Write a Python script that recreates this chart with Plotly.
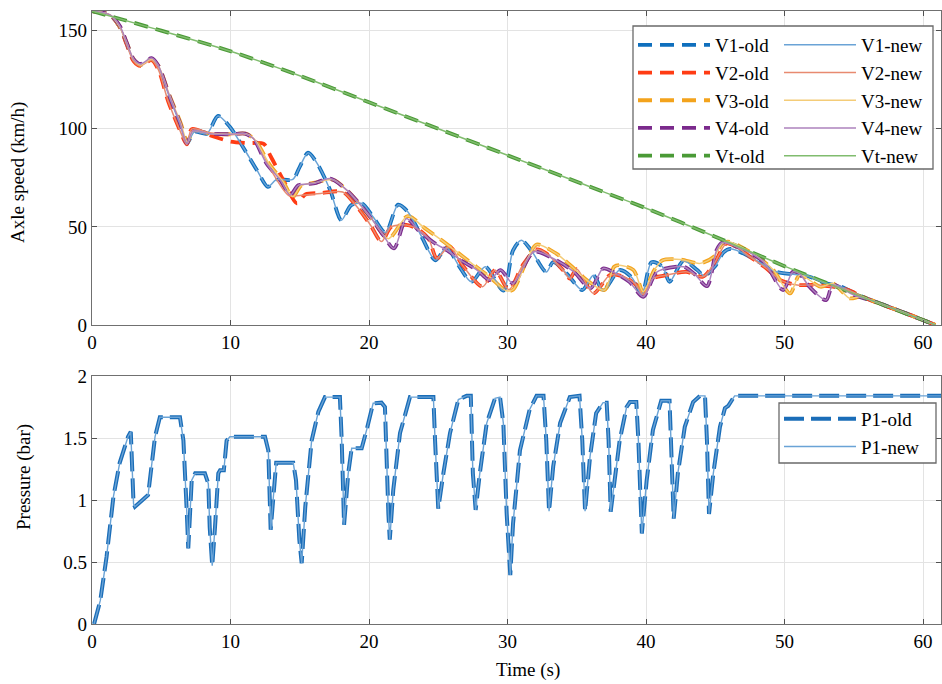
import plotly.graph_objects as go

# ---------------- data ----------------
# Axle speeds, top panel (time s, speed km/h)
V1_t = [0, 1.3, 2.0, 2.5, 3.0, 3.5, 4.3, 4.8, 5.6, 6.35, 6.85, 7.4, 8.3, 9.1, 9.95, 10.9, 11.9, 12.7,
        13.3, 14.5, 15.0, 15.6, 16.2, 17.2, 18.0, 18.7, 19.5, 20.3, 21.2, 22.1, 22.8, 23.8, 24.8, 25.6,
        26.5, 27.4, 28.4, 29.7, 30.4, 31.0, 31.7, 32.8, 33.3, 34.3, 35.4, 36.2, 36.9, 38.1, 39.0, 39.7,
        40.4, 41.2, 41.7, 42.7, 43.7, 44.2, 45.0, 45.6, 46.1, 47.5, 48.7, 49.4, 51.1, 51.8, 53.0, 54.0,
        55.5, 57.0, 59.0, 60.9]
V1_v = [160, 158, 152, 143.5, 135, 132.5, 135.5, 131.5, 116, 102.5, 92.5, 98.4, 97.5, 106.5, 101, 90.7, 79, 70.4,
        74, 74.2, 80.6, 87.8, 83, 68.7, 53.4, 61, 61.9, 55, 47, 61.3, 57.7, 45, 33, 39.5,
        30, 22, 29.7, 17.5, 38, 43.2, 38.2, 27, 32, 26, 17.8, 25.4, 17.5, 28, 24, 15.5,
        32, 29.7, 22, 32.7, 28, 25, 30, 37, 38.8, 34.8, 29.7, 27.1, 25.4, 24.6, 21.2, 19.8,
        14.8, 10.6, 5.3, 0]

V2_t = [0, 1.3, 2.0, 2.5, 3.0, 3.5, 4.3, 4.8, 5.5, 6.3, 6.85, 7.2, 8.5, 10.0, 11.2, 12.4, 12.9, 13.8,
        14.8, 15.4, 16.5, 18.1, 19.1, 20.1, 20.9, 21.6, 22.7, 23.5, 24.3, 24.9, 25.8, 26.8, 28.2, 29.1,
        30.1, 31.1, 32.1, 32.8, 34.0, 34.5, 35.0, 36.2, 37.4, 38.4, 39.3, 39.8, 40.5, 41.5, 42.9, 44.1,
        44.9, 45.8, 46.5, 47.5, 48.7, 49.7, 50.9, 52.1, 53.5, 54.5, 56.0, 57.5, 59.0, 60.9]
V2_v = [160, 158, 152, 143, 134.5, 132, 135, 130, 114, 100, 92, 99.8, 96.7, 93.5, 92.7, 92.3, 86, 74,
        62, 66.5, 67.2, 67.8, 60.5, 51, 42.5, 50, 51, 49, 44, 34, 40, 30, 19.5, 28,
        18, 30.5, 38.5, 36.5, 28, 23.7, 28.5, 16.1, 25.4, 24.6, 20.4, 15.3, 23.7, 25.4, 27.1, 24.6,
        31, 41.5, 40, 34.8, 28.8, 22.9, 20.4, 20.4, 19.5, 18, 13.3, 9.2, 5.3, 0]

V2n_t = [0, 1.3, 2.0, 2.5, 3.0, 3.5, 4.3, 4.8, 5.5, 6.3, 6.85, 7.2, 8.5, 10.0, 11.3, 11.9, 13.0, 14.2,
         15.0, 16.5, 18.1, 19.1, 20.1, 20.9, 21.6, 22.7, 23.5, 24.3, 24.9, 25.8, 26.8, 28.2, 29.1,
         30.1, 31.1, 32.1, 32.8, 34.0, 34.5, 35.0, 36.2, 37.4, 38.4, 39.3, 39.8, 40.5, 41.5, 42.9, 44.1,
         44.9, 45.8, 46.5, 47.5, 48.7, 49.7, 50.9, 52.1, 53.5, 54.5, 56.0, 57.5, 59.0, 60.9]
V2n_v = [160, 158, 152, 143, 134.5, 132, 135, 130, 114, 100, 92, 99.8, 98, 97, 97, 93, 78, 66,
         66, 67, 67.8, 60.5, 51, 42.5, 50, 51, 49, 44, 34, 40, 30, 19.5, 28,
         18, 30.5, 38.5, 36.5, 28, 23.7, 28.5, 16.1, 25.4, 24.6, 20.4, 15.3, 23.7, 25.4, 27.1, 24.6,
         31, 41.5, 40, 34.8, 28.8, 22.9, 20.4, 20.4, 19.5, 18, 13.3, 9.2, 5.3, 0]

V3_t = [0, 1.3, 2.0, 2.5, 3.0, 3.5, 4.3, 4.8, 5.6, 6.4, 6.9, 7.3, 8.5, 10.0, 11.1, 11.8, 12.8, 13.8,
        14.5, 15.1, 16.1, 17.4, 18.5, 20.2, 21.4, 22.8, 24.0, 25.4, 27.1, 28.7, 29.9, 30.4, 31.4, 32.1,
        33.5, 34.8, 35.7, 37.0, 37.7, 38.1, 39.1, 39.8, 40.6, 41.2, 42.5, 43.9, 44.9, 45.5, 45.9, 46.8,
        48.2, 49.2, 50.4, 51.1, 52.6, 53.5, 54.7, 55.5, 56.5, 58.0, 60.9]
V3_v = [160, 158, 152, 144, 135.5, 132.5, 135.5, 132, 117, 103, 93, 99, 97.5, 97.2, 97.5, 94, 82, 73,
        65.3, 71, 72.5, 74, 68, 54, 44, 55.5, 49.5, 42.4, 33.1, 24.6, 17.5, 18, 33, 41,
        36.5, 28.8, 23, 17.8, 29.7, 30.5, 28, 17, 28, 33, 33.4, 31.4, 34.8, 41.5, 42.5, 40,
        34, 28, 16.1, 25.4, 19.5, 21.2, 13.6, 14.4, 12, 8, 0]

V4_t = [0, 1.3, 2.0, 2.5, 3.0, 3.5, 4.3, 4.8, 5.6, 6.35, 6.85, 7.3, 8.5, 10.0, 11.05, 11.65, 12.6, 13.6,
        14.3, 14.9, 16.0, 17.2, 18.4, 20.1, 21.0, 21.8, 22.7, 23.6, 24.6, 25.8, 26.6, 27.8, 28.7, 29.5,
        30.4, 31.9, 33.3, 34.8, 36.0, 36.9, 37.6, 38.8, 39.8, 40.8, 42.7, 43.5, 44.4, 45.1, 45.5, 46.5,
        48.0, 48.7, 49.9, 50.6, 51.1, 51.8, 53.0, 53.5, 55.0, 56.5, 58.0, 60.9]
V4_v = [160, 158, 152.5, 144, 135.5, 133, 136, 132, 116.5, 103, 92.5, 99, 97.5, 97.2, 97.5, 95, 82.3, 73.8,
        66.2, 71.2, 72.1, 74.6, 68.7, 55, 46, 39, 54.2, 48, 42.4, 37.3, 33.1, 28, 22.9, 28,
        21.2, 37.3, 33.9, 27.1, 18.7, 28.8, 27.1, 22, 14.4, 27.1, 29.7, 26, 19.8, 38.2, 42, 40,
        34.8, 30.5, 17.8, 27.1, 26, 19.5, 12.7, 20.4, 15.3, 12, 8, 0]

Vt_t = [0, 5, 10, 15, 20, 25, 30, 35, 40, 45, 50, 55, 60, 60.9]
Vt_v = [160, 150, 139.5, 127, 113.5, 100, 86.5, 73, 59.5, 45, 30, 16, 2.5, 0]

# Brake pressure, bottom panel (time s, pressure bar)
P1_t = [0.15, 0.6, 1.05, 1.55, 2.0, 2.6, 2.8, 3.0, 3.1, 3.95, 4.05, 4.55, 4.9, 6.35, 6.6, 6.85, 6.95,
        7.2, 7.45, 8.15, 8.4, 8.5, 8.68, 8.88, 9.12, 9.25, 9.52, 9.72, 9.96, 12.49, 12.73, 12.9, 13.3,
        14.53, 14.73, 14.97, 15.14, 15.4, 15.86, 16.34, 16.82, 17.9, 18.03, 18.2, 18.5, 18.75, 19.47,
        19.83, 20.3, 20.9, 21.15, 21.4, 21.5, 21.75, 22.24, 22.96, 24.65, 24.77, 25.0, 25.37, 25.85,
        26.45, 27.05, 27.35, 27.5, 27.7, 28.0, 28.5, 29.1, 29.46, 29.7, 29.94, 30.2, 30.4, 30.9, 31.6,
        32.1, 32.6, 32.8, 33.0, 33.3, 33.8, 34.5, 35.2, 35.4, 35.6, 35.96, 36.4, 36.9, 37.16, 37.3,
        37.45, 37.6, 38.1, 38.6, 38.84, 39.3, 39.45, 39.7, 40.05, 40.5, 41.1, 41.7, 41.8, 42.0, 42.3,
        42.8, 43.4, 43.9, 44.26, 44.4, 44.55, 44.86, 45.34, 45.7, 45.94, 46.4, 61.3]
P1_p = [0, 0.19, 0.54, 1.03, 1.30, 1.51, 1.55, 0.97, 0.946, 1.03, 1.04, 1.51, 1.667, 1.667, 1.48, 0.89, 0.61,
        1.16, 1.215, 1.215, 1.13, 0.78, 0.47, 0.78, 1.215, 1.24, 1.24, 1.48, 1.51, 1.51, 1.40, 0.76, 1.30,
        1.30, 1.16, 0.68, 0.49, 0.946, 1.48, 1.71, 1.83, 1.83, 1.48, 0.80, 1.215, 1.417, 1.417,
        1.565, 1.78, 1.785, 1.75, 0.89, 0.68, 1.08, 1.54, 1.83, 1.83, 1.48, 0.93, 1.215, 1.54,
        1.81, 1.84, 1.84, 1.215, 0.92, 1.215, 1.62, 1.82, 1.83, 1.62, 0.89, 0.395, 0.81, 1.40, 1.73,
        1.84, 1.84, 1.48, 0.91, 1.27, 1.62, 1.83, 1.84, 1.48, 0.91, 1.35, 1.70, 1.785, 1.785, 1.48,
        0.906, 1.05, 1.48, 1.75, 1.79, 1.79, 1.48, 0.73, 1.16, 1.565, 1.80, 1.80, 1.48, 0.85, 1.215,
        1.59, 1.79, 1.84, 1.84, 1.48, 0.887, 1.215, 1.59, 1.74, 1.76, 1.84, 1.84]

x_ticks = [0, 10, 20, 30, 40, 50, 60]
speed_ticks = [0, 50, 100, 150]
press_ticks = [0, 0.5, 1, 1.5, 2]
press_ticktext = ["0", "0.5", "1", "1.5", "2"]

# ---------------- styling ----------------
FONT = "Liberation Serif, Times New Roman, serif"
OLD_DASH = "14px,8px"
P_DASH = "20px,7px"

speed_series = [
    ("V1", V1_t, V1_v, V1_t, V1_v, "#0f6fbd", "#6aa3d6"),
    ("V2", V2_t, V2_v, V2n_t, V2n_v, "#ff3c14", "#e88a70"),
    ("V3", V3_t, V3_v, V3_t, V3_v, "#f3a31c", "#f4cc78"),
    ("V4", V4_t, V4_v, V4_t, V4_v, "#7b2a8c", "#ad82bd"),
    ("Vt", Vt_t, Vt_v, Vt_t, Vt_v, "#4a9a36", "#80bc6e"),
]

fig = go.Figure()

# old (dashed, thick) first, then new (thin) drawn on top
for name, ot, ov, nt, nv, c_old, c_new in speed_series:
    fig.add_trace(go.Scatter(
        x=ot, y=ov, mode="lines", name=f"{name}-old", legend="legend",
        line=dict(color=c_old, width=3.8, dash=OLD_DASH, shape="spline", smoothing=0.8),
        xaxis="x", yaxis="y"))
for name, ot, ov, nt, nv, c_old, c_new in speed_series:
    fig.add_trace(go.Scatter(
        x=nt, y=nv, mode="lines", name=f"{name}-new", legend="legend2",
        line=dict(color=c_new, width=1.5, shape="spline", smoothing=0.8),
        xaxis="x", yaxis="y"))

fig.add_trace(go.Scatter(
    x=P1_t, y=P1_p, mode="lines", name="P1-old", legend="legend3",
    line=dict(color="#1a6db8", width=4, dash=P_DASH), xaxis="x2", yaxis="y2"))
fig.add_trace(go.Scatter(
    x=P1_t, y=P1_p, mode="lines", name="P1-new", legend="legend3",
    line=dict(color="#6aa3d6", width=1.4), xaxis="x2", yaxis="y2"))

axis_common = dict(
    showline=True, linecolor="#707070", linewidth=1.3, mirror="ticks",
    ticks="inside", ticklen=5, tickcolor="#505050", tickwidth=1,
    showgrid=True, gridcolor="#e3e3e3", gridwidth=1, zeroline=False,
    tickfont=dict(family=FONT, size=19, color="black"),
)

W, H = 942, 684
L, R, T, B = 92, 1, 11, 60
PW, PH = W - L - R, H - T - B


def px_x(px):
    return (px - L) / PW


def px_y(py):
    return (H - B - py) / PH


legend_common = dict(
    font=dict(family=FONT, size=19, color="black"),
    bgcolor="rgba(0,0,0,0)", borderwidth=0, itemwidth=72,
    xanchor="left", yanchor="top", tracegroupgap=0,
)

title_font = dict(family=FONT, size=19, color="black")

fig.update_layout(
    width=W, height=H,
    margin=dict(l=L, r=R, t=T, b=B),
    paper_bgcolor="white", plot_bgcolor="white",
    font=dict(family=FONT, size=19, color="black"),
    showlegend=True,
    xaxis=dict(domain=[0, 1], range=[0, 61.3], tickvals=x_ticks, anchor="y", **axis_common),
    yaxis=dict(domain=[px_y(325), 1], range=[0, 160], tickvals=speed_ticks, anchor="x", **axis_common),
    xaxis2=dict(domain=[0, 1], range=[0, 61.3], tickvals=x_ticks, anchor="y2", **axis_common),
    yaxis2=dict(domain=[0, px_y(376)], range=[0, 2], tickvals=press_ticks, ticktext=press_ticktext,
                anchor="x2", **axis_common),
    legend=dict(x=px_x(633), y=px_y(26), **legend_common),
    legend2=dict(x=px_x(779), y=px_y(26), **legend_common),
    legend3=dict(x=px_x(779), y=px_y(400), **legend_common),
    annotations=[
        dict(text="Axle speed (km/h)", xref="paper", yref="paper", x=px_x(18), y=px_y(173),
             textangle=-90, showarrow=False, font=title_font, xanchor="center", yanchor="middle"),
        dict(text="Pressure (bar)", xref="paper", yref="paper", x=px_x(24), y=px_y(477),
             textangle=-90, showarrow=False, font=title_font, xanchor="center", yanchor="middle"),
        dict(text="Time (s)", xref="paper", yref="paper", x=px_x(528), y=px_y(682),
             showarrow=False, font=title_font, xanchor="center", yanchor="bottom", borderpad=0),
    ],
    shapes=[
        dict(type="rect", xref="paper", yref="paper", x0=px_x(633), x1=px_x(933),
             y0=px_y(169), y1=px_y(26), line=dict(color="#6a6a6a", width=1.3),
             fillcolor="white", layer="above"),
        dict(type="rect", xref="paper", yref="paper", x0=px_x(779), x1=px_x(936),
             y0=px_y(463), y1=px_y(403), line=dict(color="#6a6a6a", width=1.3),
             fillcolor="white", layer="above"),
    ],
)

fig.write_html("out.html")
